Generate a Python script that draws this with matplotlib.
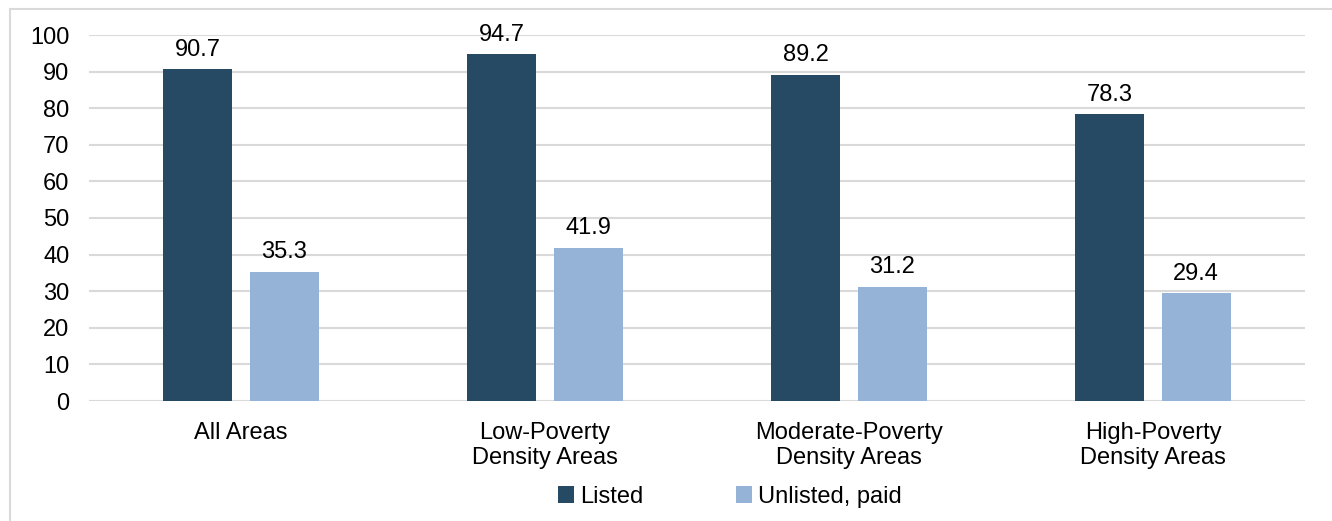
import matplotlib.pyplot as plt
import matplotlib.patches as mpatches
import numpy as np

plt.rcParams['font.family'] = ['Liberation Sans', 'DejaVu Sans']

categories = ["All Areas", "Low-Poverty\nDensity Areas", "Moderate-Poverty\nDensity Areas", "High-Poverty\nDensity Areas"]
listed = [90.7, 94.7, 89.2, 78.3]
unlisted = [35.3, 41.9, 31.2, 29.4]
series_names = ["Listed", "Unlisted, paid"]
yticks = [0, 10, 20, 30, 40, 50, 60, 70, 80, 90, 100]

c_dark = "#264A64"
c_light = "#95B3D7"
fs = 17

fig = plt.figure(figsize=(13.32, 5.21), dpi=100)
ax = fig.add_axes([89/1332, 1-401/521, (1305-89)/1332, (401-35)/521])

x = np.arange(len(categories))
w = 0.227
off = 0.142
b1 = ax.bar(x - off, listed, w, color=c_dark, label=series_names[0], zorder=3)
b2 = ax.bar(x + off, unlisted, w, color=c_light, label=series_names[1], zorder=3)

for bars in (b1, b2):
    for r in bars:
        ax.annotate(f"{r.get_height():.1f}", (r.get_x() + r.get_width()/2, r.get_height()),
                    xytext=(0, 6), textcoords="offset points", ha="center", va="bottom",
                    fontsize=fs, color="#000000")

ax.set_xlim(-0.5, len(categories) - 0.5)
ax.set_ylim(0, 100)
ax.set_yticks(yticks)
ax.set_xticks(x)
ax.set_xticklabels(categories, fontsize=fs, linespacing=1.2)
ax.tick_params(axis="y", labelsize=fs, length=0, pad=14)
ax.tick_params(axis="x", length=0, pad=15)
ax.yaxis.grid(True, color="#D9D9D9", linewidth=1.5, zorder=0)
ax.set_axisbelow(True)
for s in ax.spines.values():
    s.set_visible(False)

fig.legend(handles=[b1, b2], labels=series_names, loc="center", bbox_to_anchor=(0.548, 1-497/521),
           ncol=2, frameon=False, fontsize=fs, handlelength=0.7, handleheight=0.7,
           handletextpad=0.25, columnspacing=3.9)

border = mpatches.Rectangle((9.5/1332, -0.1), 1.2, 1-8.5/521 + 0.1, transform=fig.transFigure,
                            fill=False, edgecolor="#D9D9D9", linewidth=1.5)
fig.patches.append(border)

fig.savefig("out.png", dpi=100)
